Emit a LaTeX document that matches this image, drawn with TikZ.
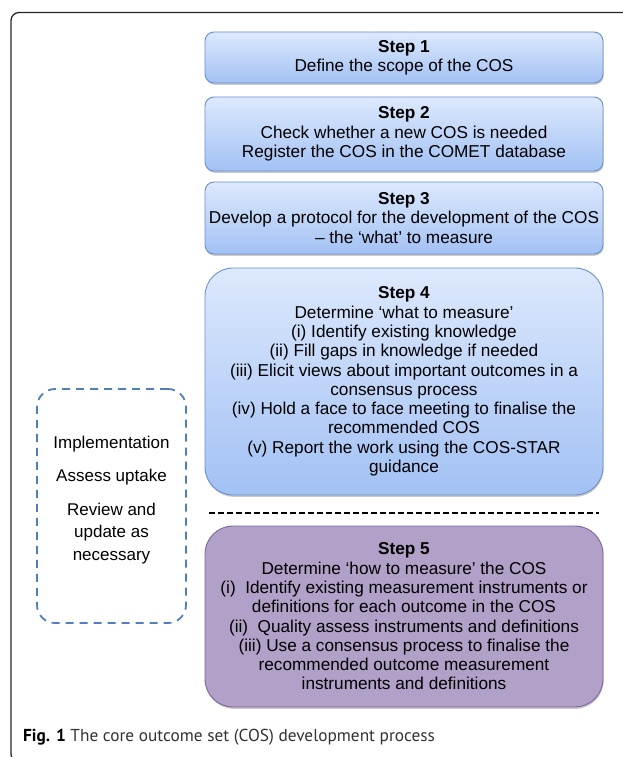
\documentclass[tikz,border=0pt]{standalone}
\usepackage{fontspec}
\setmainfont{Liberation Sans}
\newfontfamily\capfont{PT Sans}
\usetikzlibrary{shadows}
\definecolor{bluetop}{HTML}{DDE9FD}
\definecolor{bluebot}{HTML}{A2C1F4}
\definecolor{blueedge}{HTML}{6A8FCB}
\definecolor{purfill}{HTML}{B1A0C7}
\definecolor{puredge}{HTML}{7B679D}
\definecolor{dashblue}{HTML}{4F7FBF}
\definecolor{captext}{HTML}{333333}
\begin{document}
\begin{tikzpicture}[x=1pt,y=-1pt,
  boxfont/.style={font=\fontsize{17.2}{19.3}\selectfont},
  bluebox/.style={boxfont, draw=blueedge, line width=0.9pt, top color=bluetop, bottom color=bluebot,
    align=center, inner sep=0pt, minimum width=398pt,
    drop shadow={shadow xshift=0.6pt, shadow yshift=-1.8pt, opacity=0.35, fill=black!60}},
  purbox/.style={boxfont, draw=puredge, line width=0.9pt, fill=purfill,
    align=center, inner sep=0pt, minimum width=398pt, rounded corners=28pt,
    drop shadow={shadow xshift=0.6pt, shadow yshift=-1.8pt, opacity=0.35, fill=black!60}},
  smallround/.style={rounded corners=9pt},
  biground/.style={rounded corners=28pt},
  dashbox/.style={draw=dashblue, line width=1.8pt, dash pattern=on 8pt off 6pt, rounded corners=18pt,
    minimum width=149pt, minimum height=234pt, inner sep=0pt},
  sidetext/.style={align=center, inner sep=0pt},
  sepline/.style={draw=black, line width=1.4pt, dash pattern=on 6pt off 3pt},
  frame/.style={draw=black!85, line width=1.3pt, rounded corners=8pt}
]
\useasboundingbox (0,0) rectangle (622,757);
\draw[frame] (11,12.5) rectangle (660,762);

\node[bluebox, smallround, minimum height=51pt] (s1) at (404,57.5)
  {\textbf{Step 1}\\Define the scope of the COS};
\node[bluebox, smallround, minimum height=74pt] (s2) at (404,134)
  {\textbf{Step 2}\\Check whether a new COS is needed\\Register the COS in the COMET database};
\node[bluebox, smallround, minimum height=72pt] (s3) at (404,218)
  {\textbf{Step 3}\\Develop a protocol for the development of the COS\\– the ‘what’ to measure};
\node[bluebox, biground, minimum height=227pt] (s4) at (404,381.5)
  {\textbf{Step 4}\\Determine ‘what to measure’\\(i) Identify existing knowledge\\(ii) Fill gaps in knowledge if needed\\(iii) Elicit views about important outcomes in a\\consensus process\\(iv) Hold a face to face meeting to finalise the\\recommended COS\\(v) Report the work using the COS-STAR\\guidance};

\coordinate (sepL) at (209,513);
\coordinate (sepR) at (599,513);
\draw[sepline] (sepL) -- (sepR);

\node[purbox, minimum height=181pt] (s5) at (404,616.5)
  {\textbf{Step 5}\\Determine ‘how to measure’ the COS\\(i)\ \ Identify existing measurement instruments or\\definitions for each outcome in the COS\\(ii)\ \ Quality assess instruments and definitions\\(iii) Use a consensus process to finalise the\\recommended outcome measurement\\instruments and definitions};

\node[dashbox] (db) at (111.5,506) {};
\node[sidetext, font=\fontsize{17}{22.5}\selectfont] (dbt) at (111.5,500)
  {Implementation\\[11pt]Assess uptake\\[11pt]Review and\\update as\\necessary};

\node[anchor=west, inner sep=0pt, font=\capfont\fontsize{17.3}{20}\selectfont, text=captext] (cap) at (23,737)
  {\textcolor{black}{\textbf{Fig. 1}} The core outcome set (COS) development process};
\end{tikzpicture}
\end{document}
